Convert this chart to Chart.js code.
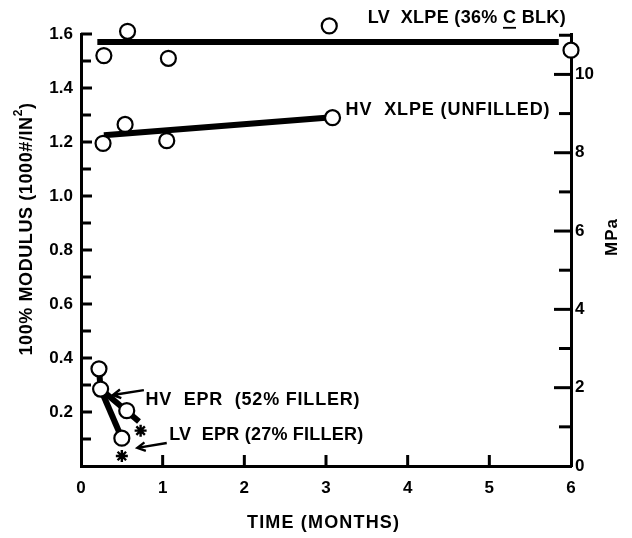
<!DOCTYPE html>
<html>
<head>
<meta charset="utf-8">
<script src="https://cdn.jsdelivr.net/npm/chart.js@4"></script>
<style>
  html, body { margin: 0; padding: 0; background: #fff; }
  canvas { display: block; }
</style>
</head>
<body>
<canvas id="c" width="632" height="538"></canvas>
<script>
// Axis tick values
const monthTicks = [0, 1, 2, 3, 4, 5, 6];
const modulusTicks = [0.2, 0.4, 0.6, 0.8, 1.0, 1.2, 1.4, 1.6];
const modulusMinor = [0.1, 0.3, 0.5, 0.7, 0.9, 1.1, 1.3, 1.5];
const mpaTicks = [0, 2, 4, 6, 8, 10];
const mpaMinor = [1, 3, 5, 7, 9, 11];
const PSI1000_TO_MPA = 6.895;

// LV XLPE (36% carbon black)
const lvXlpeMonths  = [0.28, 0.57, 1.07, 3.04, 6.0];
const lvXlpeModulus = [1.52, 1.61, 1.51, 1.63, 1.54];
const lvXlpeFitMonths  = [0.2, 5.85];
const lvXlpeFitModulus = [1.57, 1.57];

// HV XLPE (unfilled)
const hvXlpeMonths  = [0.27, 0.54, 1.05, 3.08];
const hvXlpeModulus = [1.195, 1.265, 1.205, 1.29];
const hvXlpeFitMonths  = [0.28, 3.0];
const hvXlpeFitModulus = [1.225, 1.29];

// HV EPR (52% filler)
const hvEprMonths  = [0.22, 0.24, 0.56];
const hvEprModulus = [0.36, 0.285, 0.205];
const hvEprFitMonths  = [0.22, 0.24, 0.71];
const hvEprFitModulus = [0.36, 0.285, 0.165];

// LV EPR (27% filler)
const lvEprMonths  = [0.5];
const lvEprModulus = [0.103];
const lvEprFitMonths  = [0.24, 0.5];
const lvEprFitModulus = [0.285, 0.103];

// Specimens marked with an asterisk
const starMonths  = [0.73, 0.5];
const starModulus = [0.131, 0.037];

const FONT = "'Liberation Sans', Arial, sans-serif";
const pts = (xs, ys) => xs.map((x, i) => ({ x, y: ys[i] }));

const circles = (xs, ys) => ({
  type: 'scatter', data: pts(xs, ys), clip: false,
  pointStyle: 'circle', pointRadius: 7.5, pointBorderWidth: 2.2,
  pointBackgroundColor: '#fff', pointBorderColor: '#000'
});
const fit = (xs, ys) => ({
  type: 'scatter', data: pts(xs, ys), clip: false, showLine: true,
  borderColor: '#000', borderWidth: 6, pointRadius: 0, borderCapStyle: 'butt'
});

// Draws text stretched to a given width
function fitText(ctx, text, x, y, width) {
  ctx.letterSpacing = '0px';
  const w0 = ctx.measureText(text).width;
  const sp = (width - w0) / Math.max(1, text.length - 1);
  ctx.letterSpacing = sp + 'px';
  ctx.fillText(text, x, y);
  return sp;
}

function arrow(ctx, x1, y1, x2, y2) {
  // line from (x1,y1) to tip (x2,y2) with an open head
  ctx.beginPath();
  ctx.moveTo(x1, y1); ctx.lineTo(x2, y2);
  const a = Math.atan2(y2 - y1, x2 - x1), L = 9, s = 0.5;
  ctx.moveTo(x2 - L * Math.cos(a - s), y2 - L * Math.sin(a - s));
  ctx.lineTo(x2, y2);
  ctx.lineTo(x2 - L * Math.cos(a + s), y2 - L * Math.sin(a + s));
  ctx.stroke();
}

const axisDecor = {
  id: 'axisDecor',
  beforeDatasetsDraw(chart) {
    const { ctx, chartArea: a, scales: { x, y, yR } } = chart;
    ctx.save();
    ctx.strokeStyle = '#000'; ctx.lineWidth = 3; ctx.lineCap = 'butt';
    const h = (x1, x2, py) => { ctx.beginPath(); ctx.moveTo(x1, py); ctx.lineTo(x2, py); ctx.stroke(); };
    modulusTicks.forEach(v => h(a.left, a.left + 11, y.getPixelForValue(v)));
    modulusMinor.forEach(v => h(a.left, a.left + 10, y.getPixelForValue(v)));
    mpaTicks.filter(v => v > 0).forEach(v => h(a.right - 17, a.right, yR.getPixelForValue(v)));
    mpaMinor.forEach(v => h(a.right - 12, a.right, yR.getPixelForValue(v)));
    monthTicks.filter(v => v > 0 && v < 6).forEach(v => {
      const px = x.getPixelForValue(v);
      ctx.beginPath(); ctx.moveTo(px, a.bottom); ctx.lineTo(px, a.bottom - 11); ctx.stroke();
    });
    ctx.restore();
  },
  afterDraw(chart) {
    const { ctx, scales: { x, y } } = chart;
    const px = v => x.getPixelForValue(v), py = v => y.getPixelForValue(v);
    ctx.save();
    ctx.fillStyle = '#000'; ctx.strokeStyle = '#000';
    ctx.textBaseline = 'middle'; ctx.textAlign = 'left';
    ctx.font = `bold 18px ${FONT}`;

    // series labels
    const lvX = px(3.51), lvY = py(1.66);
    const lvText = 'LV  XLPE (36% C BLK)';
    const sp = fitText(ctx, lvText, lvX, lvY, 198);
    const pre = ctx.measureText('LV  XLPE (36% ').width;
    const cw = ctx.measureText('C').width - sp;
    ctx.lineWidth = 1.8;
    ctx.beginPath(); ctx.moveTo(lvX + pre, lvY + 10); ctx.lineTo(lvX + pre + cw, lvY + 10); ctx.stroke();

    fitText(ctx, 'HV  XLPE (UNFILLED)', px(3.24), py(1.319), 204);
    fitText(ctx, 'HV  EPR  (52% FILLER)', px(0.79), py(0.244), 214);
    fitText(ctx, 'LV  EPR (27% FILLER)', px(1.08), py(0.115), 194);

    ctx.lineWidth = 2.4;
    arrow(ctx, px(0.77), py(0.281), px(0.39), py(0.263));
    arrow(ctx, px(1.05), py(0.085), px(0.69), py(0.067));

    // axis titles
    ctx.font = `bold 18px ${FONT}`;
    ctx.textAlign = 'left';
    fitText(ctx, 'TIME (MONTHS)', 247, 523, 152);

    ctx.save();
    ctx.translate(27, 229);
    ctx.rotate(-Math.PI / 2);
    ctx.font = `bold 18px ${FONT}`;
    ctx.letterSpacing = '0.6px';
    const main = '100% MODULUS (1000#/IN';
    const wMain = ctx.measureText(main).width;
    ctx.font = `bold 12px ${FONT}`;
    const wSup = ctx.measureText('2').width;
    ctx.font = `bold 18px ${FONT}`;
    const wEnd = ctx.measureText(')').width;
    let sx = -(wMain + wSup + wEnd) / 2;
    ctx.fillText(main, sx, 0); sx += wMain;
    ctx.font = `bold 12px ${FONT}`;
    ctx.fillText('2', sx, -8); sx += wSup;
    ctx.font = `bold 18px ${FONT}`;
    ctx.fillText(')', sx, 0);
    ctx.restore();

    ctx.save();
    ctx.translate(612, 237);
    ctx.rotate(-Math.PI / 2);
    ctx.textAlign = 'center';
    ctx.letterSpacing = '1px';
    ctx.font = `bold 17px ${FONT}`;
    ctx.fillText('MPa', 0, 0);
    ctx.restore();

    ctx.restore();
  }
};

const tickFont = { family: FONT, size: 17, weight: 'bold' };
const border = { display: true, width: 3, color: '#000' };
const noGrid = { display: false, drawTicks: false };

new Chart(document.getElementById('c'), {
  type: 'scatter',
  data: {
    datasets: [
      circles(lvXlpeMonths, lvXlpeModulus),
      circles(hvXlpeMonths, hvXlpeModulus),
      circles(hvEprMonths, hvEprModulus),
      circles(lvEprMonths, lvEprModulus),
      {
        type: 'scatter', data: pts(starMonths, starModulus), clip: false,
        pointStyle: 'star', pointRadius: 6, pointBorderWidth: 2.4,
        pointBorderColor: '#000', pointBackgroundColor: '#000'
      },
      fit(lvXlpeFitMonths, lvXlpeFitModulus),
      fit(hvXlpeFitMonths, hvXlpeFitModulus),
      fit(hvEprFitMonths, hvEprFitModulus),
      fit(lvEprFitMonths, lvEprFitModulus)
    ]
  },
  options: {
    responsive: false,
    devicePixelRatio: 1,
    animation: false,
    layout: { padding: { top: 34, left: 0, right: 0, bottom: 0 } },
    plugins: { legend: { display: false }, tooltip: { enabled: false } },
    scales: {
      x: {
        type: 'linear', position: 'bottom', min: 0, max: 6,
        grid: noGrid, border,
        ticks: { font: tickFont, color: '#000', padding: 12, maxRotation: 0 },
        afterBuildTicks: s => { s.ticks = monthTicks.map(v => ({ value: v })); },
        afterFit: s => { s.height = 72; }
      },
      y: {
        type: 'linear', position: 'left', min: 0, max: 1.6,
        grid: noGrid, border,
        ticks: { font: tickFont, color: '#000', padding: 8, callback: v => v.toFixed(1) },
        afterBuildTicks: s => { s.ticks = modulusTicks.map(v => ({ value: v })); },
        afterFit: s => { s.width = 81; }
      },
      yR: {
        type: 'linear', position: 'right', min: 0, max: 1.6 * PSI1000_TO_MPA,
        grid: noGrid, border,
        ticks: { font: tickFont, color: '#000', padding: 4, callback: v => String(v) },
        afterBuildTicks: s => { s.ticks = mpaTicks.map(v => ({ value: v })); },
        afterFit: s => { s.width = 61; }
      }
    }
  },
  plugins: [axisDecor]
});
</script>
</body>
</html>
